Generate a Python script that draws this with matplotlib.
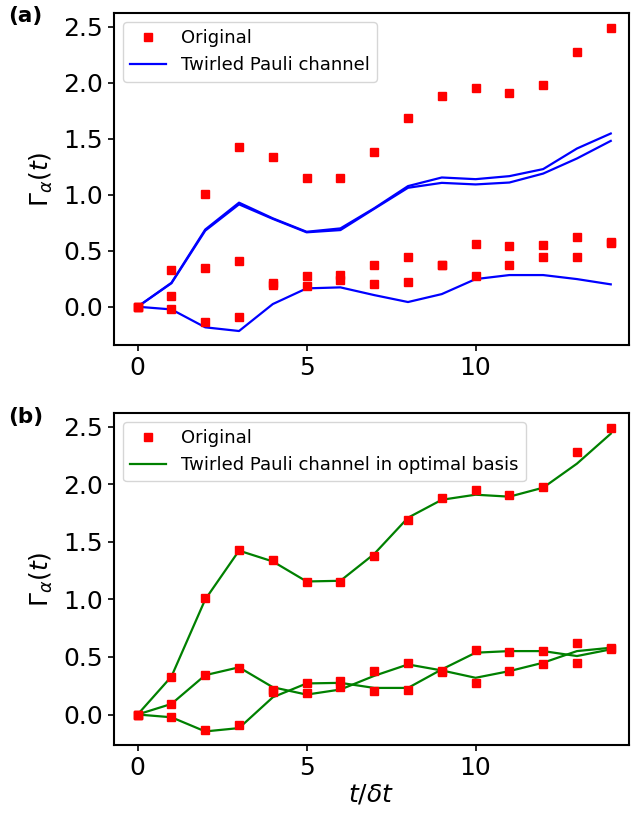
import matplotlib
matplotlib.use("Agg")
import matplotlib.pyplot as plt
import numpy as np

t = list(range(15))

# Original data (three components)
orig_1 = [0.0, 0.33, 1.01, 1.43, 1.34, 1.15, 1.15, 1.38, 1.69, 1.88, 1.955, 1.91, 1.98, 2.28, 2.49]
orig_2 = [0.0, 0.095, 0.342, 0.408, 0.21, 0.187, 0.237, 0.376, 0.447, 0.373, 0.272, 0.375, 0.443, 0.62, 0.58]
orig_3 = [0.0, -0.022, -0.137, -0.095, 0.198, 0.272, 0.288, 0.205, 0.217, 0.375, 0.563, 0.544, 0.55, 0.445, 0.572]

# Twirled Pauli channel (panel a)
pauli_1 = [0.0, 0.214, 0.69, 0.93, 0.79, 0.67, 0.70, 0.88, 1.078, 1.155, 1.14, 1.167, 1.23, 1.414, 1.548]
pauli_2 = [0.0, 0.21, 0.68, 0.915, 0.785, 0.665, 0.685, 0.875, 1.063, 1.107, 1.093, 1.11, 1.19, 1.325, 1.482]
pauli_3 = [0.0, -0.024, -0.184, -0.217, 0.024, 0.164, 0.173, 0.104, 0.042, 0.113, 0.247, 0.283, 0.283, 0.247, 0.2]

# Twirled Pauli channel in optimal basis (panel b)
opt_1 = [0.0, 0.33, 1.0, 1.424, 1.33, 1.156, 1.162, 1.395, 1.71, 1.866, 1.91, 1.893, 1.971, 2.18, 2.44]
opt_2 = [0.0, 0.092, 0.342, 0.41, 0.237, 0.173, 0.217, 0.336, 0.435, 0.383, 0.319, 0.377, 0.45, 0.551, 0.58]
opt_3 = [0.0, -0.024, -0.147, -0.118, 0.15, 0.27, 0.275, 0.231, 0.231, 0.392, 0.537, 0.551, 0.551, 0.508, 0.566]

W, H = 631, 813
fig = plt.figure(figsize=(W / 100, H / 100), dpi=100)
left = 114 / W
width = 515 / W
height = 332 / H
ax_a = fig.add_axes([left, 1 - 345 / H, width, height])
ax_b = fig.add_axes([left, 1 - 745 / H, width, height])

ms = 5.8
lw = 1.6
fs = 18

for ax in (ax_a, ax_b):
    for i, s in enumerate((orig_1, orig_2, orig_3)):
        ax.plot(t, s, 's', color='red', markersize=ms, label='Original' if i == 0 else None, zorder=3)

for i, s in enumerate((pauli_1, pauli_2, pauli_3)):
    ax_a.plot(t, s, '-', color='blue', lw=lw, label='Twirled Pauli channel' if i == 0 else None)
for i, s in enumerate((opt_1, opt_2, opt_3)):
    ax_b.plot(t, s, '-', color='green', lw=lw,
              label='Twirled Pauli channel in optimal basis' if i == 0 else None)

for ax, ylim in ((ax_a, (-0.342, 2.625)), (ax_b, (-0.265, 2.62))):
    ax.set_xlim(-0.7, 14.54)
    ax.set_ylim(*ylim)
    ax.set_xticks([0, 5, 10])
    ax.set_yticks([0.0, 0.5, 1.0, 1.5, 2.0, 2.5])
    ax.set_yticklabels(['0.0', '0.5', '1.0', '1.5', '2.0', '2.5'])
    ax.tick_params(labelsize=fs, width=1.2, length=4.5)
    for sp in ax.spines.values():
        sp.set_linewidth(1.5)
    ax.set_ylabel(r'$\Gamma_{\alpha}(t)$', fontsize=fs, labelpad=6)
    ax.legend(loc='upper left', fontsize=13, handlelength=2.0)

ax_b.set_xlabel(r'$t/\delta t$', fontsize=fs, labelpad=2)

fig.text(8 / W, 1 - 16 / H, '(a)', fontsize=15.5, fontweight='bold', va='center', ha='left')
fig.text(8 / W, 1 - 417 / H, '(b)', fontsize=15.5, fontweight='bold', va='center', ha='left')

fig.savefig('out.png', dpi=100)
